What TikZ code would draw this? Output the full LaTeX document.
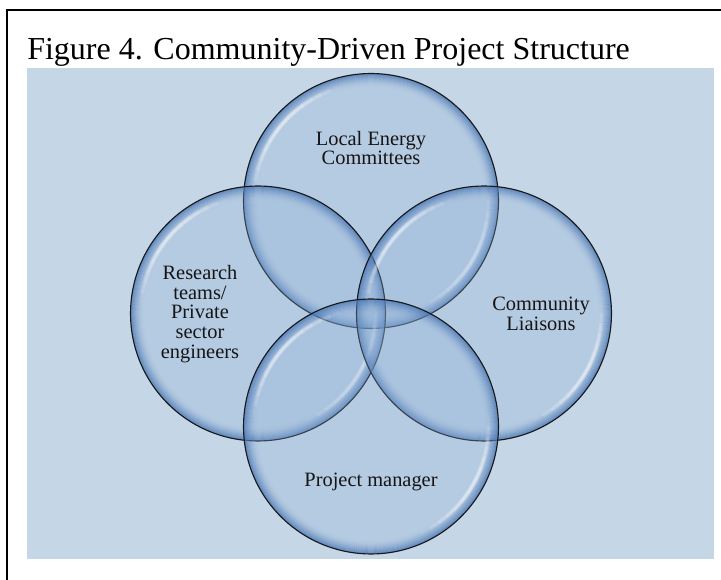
\documentclass[tikz,border=0pt]{standalone}
\usepackage{fontspec}
\setmainfont{Liberation Serif}
\definecolor{bgblue}{HTML}{C5D6E6}
\definecolor{bubfill}{HTML}{8FB0D8}
\definecolor{rimblue}{HTML}{4A77B4}
\definecolor{txt}{HTML}{151515}
\tikzset{
  framerule/.style={black, line width=1.5pt},
  bublabel/.style={inner sep=0pt, align=center, text=txt, font=\fontsize{15.3pt}{14.8pt}\selectfont},
  bubline/.style={black!90, line width=0.85pt},
}
\newcommand\drawbubble[1]{%
  \fill[bubfill, fill opacity=0.28] (#1) circle[radius=95.6pt];
  \begin{scope}
    \clip (#1) circle[radius=95.6pt];
    \foreach \i in {0,...,13} {
      \pgfmathsetmacro\op{0.72*(1-\i/14)^2}
      \draw[rimblue, line width=1pt, draw opacity=\op] (#1) circle[radius=95.6pt-\i*0.75pt];
    }
    \foreach \a in {0,...,13} {
      \pgfmathsetmacro\opa{0.6*sin((\a+0.5)/14*180)}
      \pgfmathsetmacro\sa{105+\a*5}
      \pgfmathsetmacro\sb{-65+\a*5}
      \foreach \k/\f in {8/0.4,9/0.8,10/1,11/0.8,12/0.4} {
        \pgfmathsetmacro\rr{95.6-\k*0.75}
        \pgfmathsetmacro\oo{\opa*\f}
        \draw[white, line width=0.8pt, draw opacity=\oo] (#1) ++(\sa:\rr pt) arc[start angle=\sa, delta angle=5, radius=\rr pt];
        \draw[white, line width=0.8pt, draw opacity=\oo] (#1) ++(\sb:\rr pt) arc[start angle=\sb, delta angle=5, radius=\rr pt];
      }
    }
  \end{scope}
  \draw[bubline] (#1) circle[radius=95.6pt];
}
\begin{document}
\begin{tikzpicture}[x=0.75pt,y=-0.75pt]
  \useasboundingbox (0,0) rectangle (721,580);
  \fill[white] (0,0) rectangle (721,580);
  % frame
  \draw[framerule] (6,10.5) -- (721,10.5);
  \draw[framerule] (7,10) -- (7,580);
  % title
  \node[anchor=base west, inner sep=0pt, font=\fontsize{24pt}{28pt}\selectfont] (title) at (27,60) {Figure 4. Community-Driven Project Structure};
  % background panel
  \fill[bgblue] (27,68) rectangle (714,559);
  % circle centres
  \coordinate (cT) at (371,201);
  \coordinate (cL) at (258,313.5);
  \coordinate (cR) at (484,313.5);
  \coordinate (cB) at (371,426.5);
  \drawbubble{cT}
  \drawbubble{cL}
  \drawbubble{cR}
  \drawbubble{cB}
  % labels
  \node[bublabel] (lT) at (371,148) {Local Energy\\Committees};
  \node[bublabel] (lL) at (200,314) {Research\\teams/\\Private\\sector\\engineers};
  \node[bublabel] (lR) at (541,314) {Community\\Liaisons};
  \node[bublabel] (lB) at (371,482) {Project manager};
\end{tikzpicture}
\end{document}
